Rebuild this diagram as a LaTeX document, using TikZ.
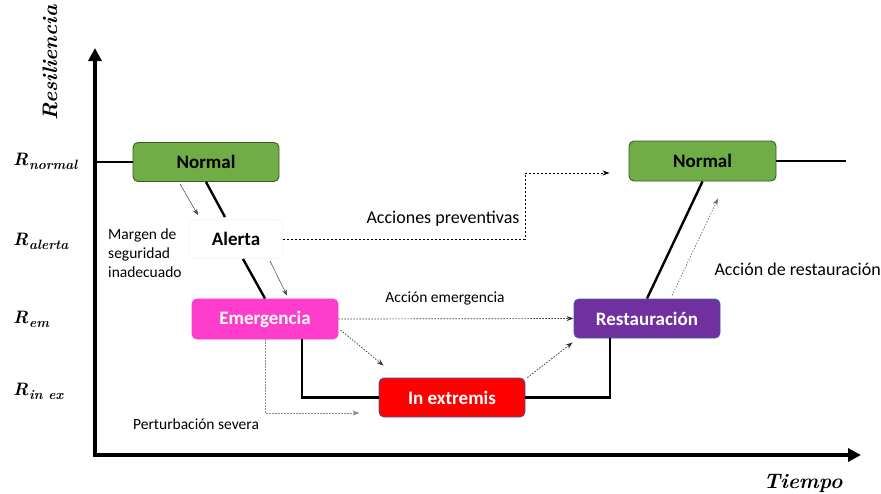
\documentclass[tikz,border=0pt]{standalone}
\usepackage{fontspec}
\setmainfont{Carlito}
\newfontfamily\lmr{Latin Modern Roman}
\usetikzlibrary{arrows.meta}
\definecolor{grn}{HTML}{70AD47}
\definecolor{grnb}{HTML}{3A5A28}
\definecolor{mag}{HTML}{FF3DCC}
\definecolor{rd}{HTML}{FF0000}
\definecolor{prp}{HTML}{7030A0}
\definecolor{bb}{HTML}{3B5BA5}
\newcommand\boxfont{\fontsize{19}{22}\selectfont\bfseries}
\newcommand\notefont{\fontsize{18}{20}\selectfont}
\newcommand\smallnotefont{\fontsize{15.5}{19}\selectfont}
\newcommand\levelfont{\lmr\bfseries\itshape\fontsize{18}{20}\selectfont}
\newcommand\axisfont{\lmr\bfseries\itshape\fontsize{21}{24}\selectfont}
% level symbol R with a subscript
\newcommand\lev[1]{R\kern0.5pt\raisebox{-4pt}{\fontsize{13.5}{14}\selectfont #1}}
\tikzset{
  statebox/.style={rounded corners=5pt, minimum width=146pt, minimum height=39pt,
    inner sep=0pt, font=\boxfont, line width=0.9pt},
  trajline/.style={line width=2.4pt},
  axisline/.style={line width=4pt, -{Triangle[length=13pt,width=13pt]}},
  thinarrow/.style={line width=0.5pt, draw=black!75, -{Stealth[length=6pt,width=4.5pt]}},
  dasharrow/.style={line width=0.8pt, dash pattern=on 2.5pt off 1.5pt, -{Stealth[length=7pt,width=5pt]}},
  dotarrow/.style={line width=0.7pt, draw=black!80, dash pattern=on 1.5pt off 1.5pt, -{Stealth[length=7pt,width=5pt]}},
  notetext/.style={font=\notefont},
  smallnote/.style={font=\smallnotefont, align=left},
  levellabel/.style={font=\levelfont, anchor=west, inner sep=0pt},
}
\begin{document}
\begin{tikzpicture}[x=1pt, y=-1pt]
\useasboundingbox (0,0) rectangle (881,493);

% axes
\coordinate (org) at (95,455);
\coordinate (ytip) at (95,48);
\coordinate (xtip) at (861,455);
\draw[axisline] ([yshift=-2pt]org) -- (ytip);
\draw[axisline] ([xshift=-2pt]org) -- (xtip);

% axis titles
\node[rotate=90, inner sep=0pt, font=\axisfont] (ylab) at (50,63) {Resiliencia};
\node[inner sep=0pt, font=\axisfont] (xlab) at (803,483) {Tiempo};

% resilience levels
\node[levellabel] (rn) at (13,161) {\lev{normal}};
\node[levellabel] (ra) at (13,241) {\lev{alerta}};
\node[levellabel] (rem) at (13,319) {\lev{em}};
\node[levellabel] (ri) at (13,391) {\lev{in ex}};

% states
\node[statebox, fill=grn, draw=grnb] (n1) at (206,162) {Normal};
\node[statebox, minimum width=93pt, fill=white, draw=black!3] (al) at (236,239) {Alerta};
\node[statebox, fill=mag, draw=mag, text=white, minimum height=40pt] (em) at (265,319) {Emergencia};
\node[statebox, fill=rd, draw=bb, text=white] (ie) at (452,397.5) {In extremis};
\node[statebox, fill=prp, draw=bb, text=white] (rs) at (647,318.5) {Restauración};
\node[statebox, fill=grn, draw=grnb, minimum width=147pt, minimum height=40pt] (n2) at (702.5,161) {Normal};

% resilience trajectory
\coordinate (axn) at (95,162);
\coordinate (endn) at (846,161);
\draw[trajline] (axn) -- (n1.west);
\draw[trajline] (n1.south) -- ([xshift=-11pt,yshift=2pt]al.north);
\draw[trajline] ([xshift=7pt]al.south) -- (em.north);
\draw[trajline] ([xshift=37pt]em.south) |- (ie.west);
\draw[trajline] (ie.east) -| ([xshift=-37pt]rs.south);
\draw[trajline] (rs.north) -- (n2.south);
\draw[trajline] (n2.east) -- (endn);

% transitions
\draw[thinarrow] ([xshift=-26pt,yshift=-2pt]n1.south) -- ([xshift=-38pt,yshift=4pt]al.north);
\draw[thinarrow] ([xshift=34pt,yshift=-2pt]al.south) -- ([xshift=22pt,yshift=3pt]em.north);

\coordinate (bend) at (525,239);
\draw[dasharrow] (al.east) -- (bend) |- ([xshift=-19pt,yshift=-12pt]n2.west);
\node[notetext] (lap) at (443,219) {Acciones preventivas};

\draw[dotarrow] (em.east) -- (rs.west);
\node[smallnote] (lae) at (445,298) {Acción emergencia};

\draw[dotarrow] ([xshift=2pt,yshift=-11pt]em.east) -- ([xshift=5pt,yshift=12pt]ie.north west);
\draw[dotarrow, draw=black!45] (em.south) |- ([xshift=-19pt,yshift=-15.5pt]ie.west);
\node[smallnote] (lps) at (196,424) {Perturbación severa};

\draw[dotarrow] ([xshift=2pt]ie.north east) -- ([xshift=-1pt,yshift=-4pt]rs.south west);
\draw[dotarrow, draw=black!55] ([xshift=25pt,yshift=3pt]rs.north) -- ([xshift=15.5pt,yshift=-17pt]n2.south);
\node[notetext, anchor=west] (lar) at (711,269) {Acción de restauración};

\node[smallnote, anchor=north west, inner sep=0pt] (lms) at (108,229) {Margen de\\seguridad\\inadecuado};
\end{tikzpicture}
\end{document}
